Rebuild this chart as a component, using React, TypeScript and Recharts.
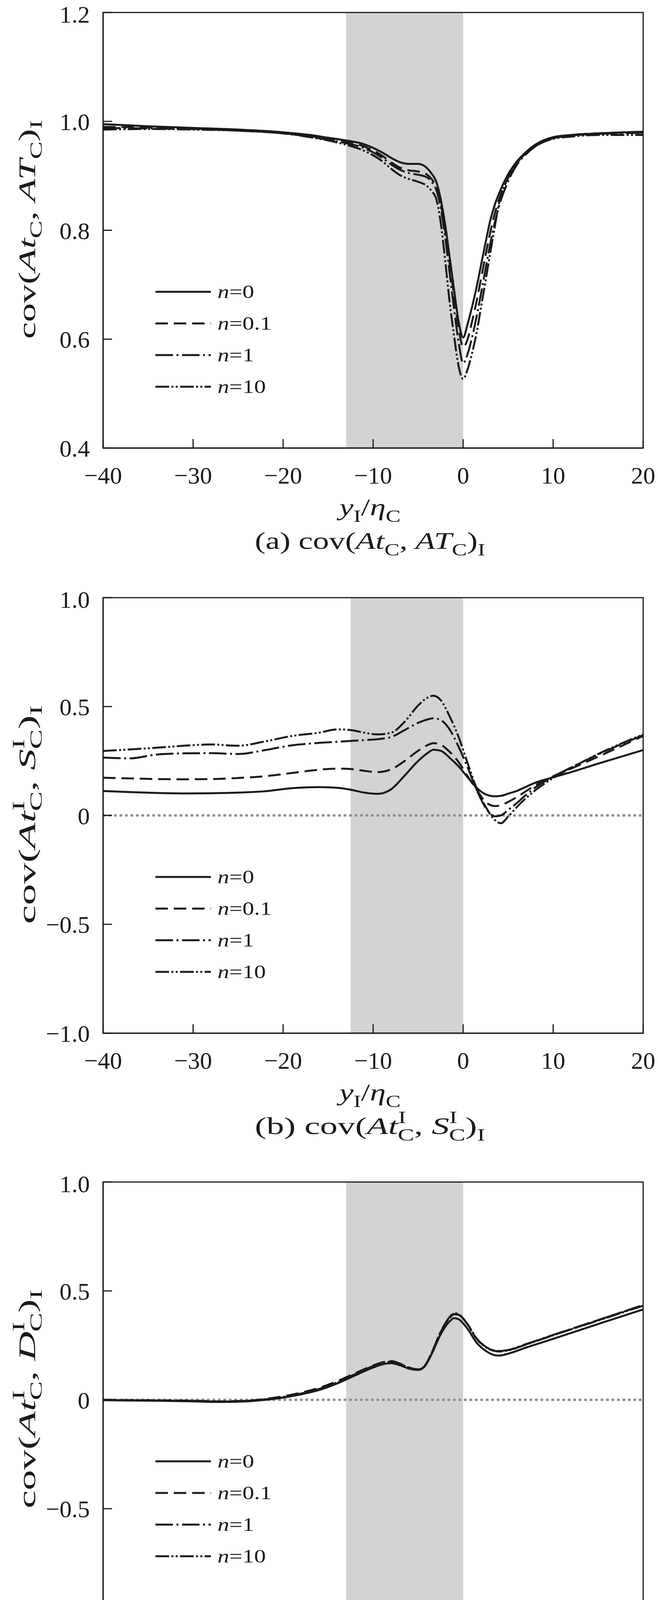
import { LineChart, Line, XAxis, YAxis, ReferenceArea, ReferenceLine, Legend, Label } from 'recharts';

const FONT = "'Liberation Serif', 'Times New Roman', Times, serif";
const INK = '#1a1a1a';
const SHADE = '#d3d2d4';

const xTicks = [-40, -30, -20, -10, 0, 10, 20];
const seriesKeys = ['n0', 'n01', 'n1', 'n10'];
const seriesNames = ['0', '0.1', '1', '10'];
const seriesDash = ['0', '32 15', '45 9 5 9', '35 6 5 6 5 6'];

// (a) cov(AtC, ATC)I
const xsA = [-40, -35, -30, -25, -20, -17, -15, -13, -11, -9, -8, -7, -6, -5, -4, -3.5, -3, -2.5, -2, -1.5, -1, -0.5, 0, 0.5, 1, 1.5, 2, 2.5, 3, 3.5, 4, 5, 6, 7, 8, 10, 12, 15, 20];
const aN0 = [0.995, 0.991, 0.988, 0.985, 0.98, 0.975, 0.97, 0.965, 0.958, 0.943, 0.933, 0.925, 0.922, 0.922, 0.914, 0.904, 0.89, 0.858, 0.811, 0.751, 0.69, 0.632, 0.603, 0.628, 0.66, 0.696, 0.737, 0.778, 0.817, 0.846, 0.868, 0.903, 0.927, 0.944, 0.957, 0.971, 0.975, 0.978, 0.981];
const aN01 = [0.99, 0.989, 0.987, 0.984, 0.979, 0.973, 0.968, 0.962, 0.954, 0.937, 0.925, 0.915, 0.91, 0.908, 0.902, 0.894, 0.88, 0.85, 0.8, 0.74, 0.678, 0.62, 0.585, 0.6, 0.633, 0.67, 0.712, 0.755, 0.795, 0.83, 0.857, 0.896, 0.924, 0.942, 0.955, 0.97, 0.975, 0.978, 0.98];
const aN1 = [0.988, 0.987, 0.986, 0.983, 0.978, 0.972, 0.966, 0.96, 0.951, 0.933, 0.921, 0.911, 0.905, 0.902, 0.897, 0.889, 0.875, 0.842, 0.788, 0.722, 0.655, 0.594, 0.556, 0.573, 0.604, 0.642, 0.685, 0.73, 0.774, 0.813, 0.845, 0.89, 0.921, 0.94, 0.954, 0.969, 0.974, 0.977, 0.979];
const aN10 = [0.985, 0.986, 0.985, 0.983, 0.978, 0.971, 0.965, 0.957, 0.946, 0.927, 0.913, 0.901, 0.894, 0.889, 0.881, 0.872, 0.858, 0.815, 0.745, 0.668, 0.605, 0.55, 0.527, 0.545, 0.575, 0.612, 0.66, 0.708, 0.757, 0.805, 0.85, 0.898, 0.924, 0.942, 0.954, 0.968, 0.972, 0.975, 0.975];

// (b) cov(AtC, SC)I
const xsB = [-40, -37, -34, -31, -28, -25, -22, -19, -16, -14, -12.5, -11, -9.5, -8, -6.5, -5, -4, -3.3, -2.5, -1.5, -0.5, 0.5, 1.5, 2.5, 3.5, 4.2, 5, 6, 7, 8, 10, 12, 15, 20];
const bN0 = [0.112, 0.107, 0.103, 0.101, 0.102, 0.105, 0.111, 0.125, 0.13, 0.127, 0.118, 0.105, 0.099, 0.12, 0.183, 0.25, 0.285, 0.302, 0.297, 0.265, 0.225, 0.175, 0.127, 0.097, 0.088, 0.09, 0.1, 0.113, 0.132, 0.15, 0.175, 0.199, 0.238, 0.3];
const bN01 = [0.173, 0.17, 0.167, 0.166, 0.167, 0.172, 0.18, 0.195, 0.21, 0.215, 0.213, 0.205, 0.199, 0.212, 0.25, 0.297, 0.322, 0.332, 0.325, 0.292, 0.245, 0.18, 0.118, 0.062, 0.043, 0.047, 0.062, 0.085, 0.112, 0.138, 0.18, 0.215, 0.27, 0.365];
const bN1 = [0.266, 0.262, 0.28, 0.285, 0.286, 0.282, 0.3, 0.322, 0.333, 0.338, 0.342, 0.346, 0.35, 0.36, 0.392, 0.425, 0.44, 0.446, 0.438, 0.395, 0.315, 0.22, 0.118, 0.035, -0.004, 0.0, 0.025, 0.058, 0.095, 0.128, 0.178, 0.22, 0.28, 0.369];
const bN10 = [0.296, 0.303, 0.311, 0.32, 0.326, 0.32, 0.34, 0.365, 0.38, 0.395, 0.392, 0.38, 0.372, 0.38, 0.43, 0.505, 0.54, 0.55, 0.53, 0.455, 0.36, 0.24, 0.125, 0.04, -0.02, -0.036, -0.005, 0.04, 0.08, 0.115, 0.172, 0.218, 0.282, 0.372];

// (c) cov(AtC, DC)I
const xsC = [-40, -35, -30, -27, -24, -22, -20, -18, -16, -14, -12, -10, -9, -8, -7, -6, -5, -4.3, -3.5, -2.5, -1.5, -1, -0.5, 0.5, 1.5, 2.5, 3.5, 4, 5, 7, 10, 15, 20];
const cN0 = [-0.002, -0.004, -0.007, -0.01, -0.007, 0.0, 0.01, 0.025, 0.045, 0.075, 0.112, 0.148, 0.162, 0.168, 0.158, 0.143, 0.137, 0.152, 0.21, 0.3, 0.36, 0.375, 0.37, 0.325, 0.262, 0.225, 0.205, 0.203, 0.212, 0.24, 0.28, 0.348, 0.415];
const cN01 = [0.0, -0.002, -0.004, -0.007, -0.004, 0.004, 0.016, 0.033, 0.055, 0.085, 0.122, 0.158, 0.172, 0.178, 0.166, 0.148, 0.14, 0.155, 0.215, 0.31, 0.375, 0.393, 0.39, 0.345, 0.28, 0.243, 0.225, 0.223, 0.228, 0.255, 0.297, 0.366, 0.435];
const cN1 = [-0.001, -0.003, -0.005, -0.008, -0.005, 0.002, 0.013, 0.029, 0.05, 0.08, 0.118, 0.155, 0.17, 0.176, 0.165, 0.147, 0.139, 0.154, 0.215, 0.312, 0.38, 0.398, 0.393, 0.347, 0.282, 0.244, 0.226, 0.224, 0.229, 0.256, 0.298, 0.366, 0.435];
const cN10 = [-0.001, -0.003, -0.005, -0.008, -0.006, 0.001, 0.011, 0.027, 0.048, 0.078, 0.116, 0.153, 0.168, 0.174, 0.164, 0.146, 0.138, 0.153, 0.213, 0.31, 0.377, 0.395, 0.391, 0.345, 0.28, 0.242, 0.224, 0.222, 0.227, 0.254, 0.296, 0.364, 0.432];

const yTicksA = [0.4, 0.6, 0.8, 1.0, 1.2];
const yTicksBC = [-1.0, -0.5, 0, 0.5, 1.0];

const rows = (xs: number[], s: number[][]) =>
  xs.map((x, i) => ({ x, n0: s[0][i], n01: s[1][i], n1: s[2][i], n10: s[3][i] }));

const minus = (s: string) => s.replace('-', '\u2212');
const fmtX = (v: number) => minus(String(v));
const fmtYA = (v: number) => v.toFixed(1);
const fmtYBC = (v: number) => (v === 0 ? '0' : minus(v.toFixed(1)));

// layout of one panel (px)
const W = 1685;
const PANEL_H = 1446;
const margin = { top: 32, right: 38, left: 64, bottom: 199 };
const PLOT_L = 264;
const PLOT_R = 1647;
const PLOT_T = 32;
const PLOT_B = 1147;
const CX = (PLOT_L + PLOT_R) / 2;

const F = 62;
const S = F * 0.7;

// symbol with stacked sup I / sub C
const stacked = (base: string) => [
  <tspan key={base + 'b'} fontStyle="italic">{base}</tspan>,
  <tspan key={base + 'u'} fontSize={S} dy={-0.45 * F}>I</tspan>,
  <tspan key={base + 'd'} fontSize={S} dx={-0.24 * F} dy={0.73 * F}>C</tspan>,
];
const sub = (base: string, s: string) => [
  <tspan key={base + 'b'} fontStyle="italic">{base}</tspan>,
  <tspan key={base + 's'} fontSize={S} dy={0.28 * F}>{s}</tspan>,
];

const covA = () => [
  <tspan key="c">cov(</tspan>,
  ...sub('At', 'C'),
  <tspan key="m" dy={-0.28 * F}>, </tspan>,
  ...sub('AT', 'C'),
  <tspan key="p" dy={-0.28 * F}>)</tspan>,
  <tspan key="i" fontSize={S} dy={0.28 * F}>I</tspan>,
];
const covStacked = (second: string) => () => [
  <tspan key="c">cov(</tspan>,
  ...stacked('At'),
  <tspan key="m" dy={-0.28 * F}>, </tspan>,
  ...stacked(second),
  <tspan key="p" dy={-0.28 * F}>)</tspan>,
  <tspan key="i" fontSize={S} dy={0.28 * F}>I</tspan>,
];

const YLabel = (body: () => JSX.Element[]) => () => (
  <text
    transform={`translate(90, ${(PLOT_T + PLOT_B) / 2 - 2}) rotate(-90)`}
    textAnchor="middle"
    fontFamily={FONT}
    fontSize={F}
    fill={INK}
    textLength={560}
    lengthAdjust="spacingAndGlyphs"
  >
    {body()}
  </text>
);

const XLabel = (tag: string, body: () => JSX.Element[]) => () => (
  <g fontFamily={FONT} fontSize={F} fill={INK}>
    <text x={CX - 8} y={PLOT_B + 172} textAnchor="middle" textLength={157} lengthAdjust="spacingAndGlyphs">
      <tspan fontStyle="italic">y</tspan>
      <tspan fontSize={S} dy={0.28 * F}>I</tspan>
      <tspan dy={-0.28 * F}>/</tspan>
      <tspan fontStyle="italic">{'\u03b7'}</tspan>
      <tspan fontSize={S} dy={0.28 * F}>C</tspan>
    </text>
    <text x={CX - 8} y={PLOT_B + 258} textAnchor="middle" textLength={590} lengthAdjust="spacingAndGlyphs">
      <tspan>{`(${tag}) `}</tspan>
      {body()}
    </text>
  </g>
);

const LegendBox = () => (
  <div style={{ fontFamily: FONT, fontSize: 60, color: INK }}>
    {seriesKeys.map((k, i) => (
      <div key={k} style={{ display: 'flex', alignItems: 'center', height: 81 }}>
        <svg width={142} height={12}>
          <line x1={0} y1={6} x2={142} y2={6} stroke={INK} strokeWidth={5} strokeDasharray={seriesDash[i]} />
        </svg>
        <span style={{ marginLeft: 17, lineHeight: 1, display: 'inline-block', transform: 'scaleY(0.8)' }}>
          <i>n</i>={seriesNames[i]}
        </span>
      </div>
    ))}
  </div>
);

type PanelProps = {
  tag: string;
  data: ReturnType<typeof rows>;
  yDomain: [number, number];
  yTicks: number[];
  fmtY: (v: number) => string;
  shade: [number, number];
  zero: boolean;
  label: () => JSX.Element[];
};

const Panel = ({ tag, data, yDomain, yTicks, fmtY, shade, zero, label }: PanelProps) => (
  <LineChart width={W} height={PANEL_H} data={data} margin={margin}>
    <ReferenceArea x1={shade[0]} x2={shade[1]} y1={yDomain[0]} y2={yDomain[1]} fill={SHADE} fillOpacity={1} stroke="none" />
    {zero && <ReferenceLine y={0} stroke="#8e8e8e" strokeWidth={6} strokeDasharray="7 7" />}
    <XAxis
      dataKey="x"
      type="number"
      domain={[-40, 20]}
      ticks={xTicks}
      tickFormatter={fmtX}
      height={100}
      tickSize={-23}
      tickMargin={70}
      axisLine={{ stroke: INK, strokeWidth: 3 }}
      tickLine={{ stroke: INK, strokeWidth: 3 }}
      tick={{ fontSize: 62, fill: INK, fontFamily: FONT }}
      allowDataOverflow
    >
      <Label content={XLabel(tag, label)} />
    </XAxis>
    <YAxis
      type="number"
      domain={yDomain}
      ticks={yTicks}
      tickFormatter={fmtY}
      width={200}
      tickSize={-23}
      tickMargin={57}
      axisLine={{ stroke: INK, strokeWidth: 3 }}
      tickLine={{ stroke: INK, strokeWidth: 3 }}
      tick={{ fontSize: 62, fill: INK, fontFamily: FONT }}
      allowDataOverflow
    >
      <Label content={YLabel(label)} />
    </YAxis>
    {seriesKeys.map((k, i) => (
      <Line
        key={k}
        dataKey={k}
        name={`n=${seriesNames[i]}`}
        type="monotone"
        stroke={INK}
        strokeWidth={5}
        strokeDasharray={seriesDash[i]}
        dot={false}
        activeDot={false}
        isAnimationActive={false}
      />
    ))}
    <ReferenceArea x1={-40} x2={20} y1={yDomain[0]} y2={yDomain[1]} fill="none" stroke={INK} strokeWidth={3} />
    <Legend
      layout="vertical"
      align="center"
      verticalAlign="middle"
      content={LegendBox}
      wrapperStyle={{ left: 398, top: PLOT_T + 714 - 40, width: 400, height: 330 }}
    />
  </LineChart>
);

export default function App() {
  return (
    <div style={{ position: 'absolute', left: 0, top: 0, width: W, height: 4440, background: '#fff', overflow: 'hidden' }}>
      <div style={{ position: 'absolute', left: 0, top: 0 }}>
        <Panel tag="a" data={rows(xsA, [aN0, aN01, aN1, aN10])} yDomain={[0.4, 1.2]} yTicks={yTicksA} fmtY={fmtYA} shade={[-13, 0]} zero={false} label={covA} />
      </div>
      <div style={{ position: 'absolute', left: 0, top: 1498 }}>
        <Panel tag="b" data={rows(xsB, [bN0, bN01, bN1, bN10])} yDomain={[-1, 1]} yTicks={yTicksBC} fmtY={fmtYBC} shade={[-12.5, 0]} zero label={covStacked('S')} />
      </div>
      <div style={{ position: 'absolute', left: 0, top: 2994 }}>
        <Panel tag="c" data={rows(xsC, [cN0, cN01, cN1, cN10])} yDomain={[-1, 1]} yTicks={yTicksBC} fmtY={fmtYBC} shade={[-13, 0]} zero label={covStacked('D')} />
      </div>
    </div>
  );
}
